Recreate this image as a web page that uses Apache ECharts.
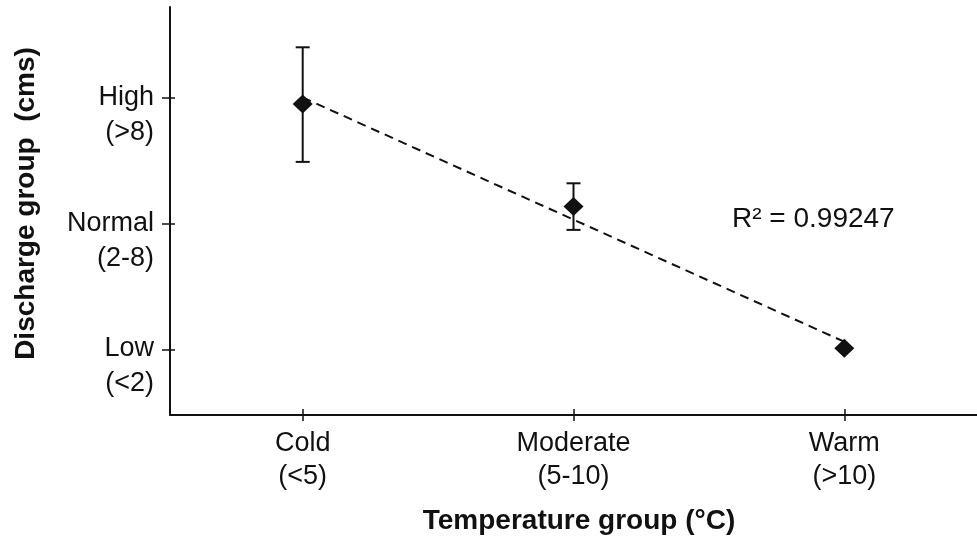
<!DOCTYPE html>
<html>
<head>
<meta charset="utf-8">
<script src="https://cdn.jsdelivr.net/npm/echarts@6/dist/echarts.min.js"></script>
<style>
html,body{margin:0;padding:0;background:#fff;}
#chart{width:977px;height:544px;}
</style>
</head>
<body>
<div id="chart"></div>
<script>
// ---- data ----
const tempLabels = ['Cold', 'Moderate', 'Warm'];
const tempRanges = ['(<5)', '(5-10)', '(>10)'];
const tempX = [1, 2, 3];
const dischargeLabels = ['Low', 'Normal', 'High'];
const dischargeRanges = ['(<2)', '(2-8)', '(>8)'];
const dischargeTicks = [1, 2, 3];
const dischargeMean = [2.95, 2.135, 1.01];
const errLow = [2.49, 1.95, null];
const errHigh = [3.40, 2.32, null];
const rSquaredText = 'R\u00b2 = 0.99247';

// least-squares trend line through the means
const n = tempX.length;
const mx = tempX.reduce((a, b) => a + b, 0) / n;
const my = dischargeMean.reduce((a, b) => a + b, 0) / n;
let sxy = 0, sxx = 0;
for (let i = 0; i < n; i++) { sxy += (tempX[i] - mx) * (dischargeMean[i] - my); sxx += (tempX[i] - mx) ** 2; }
const slope = sxy / sxx, icpt = my - slope * mx;
const trend = [tempX[0], tempX[n - 1]].map(x => [x, icpt + slope * x]);

const pointData = tempX.map((x, i) => [x, dischargeMean[i]]);
const errData = tempX.map((x, i) => [x, errLow[i], errHigh[i]]).filter(d => d[1] != null);

const FONT = "'Liberation Sans', Arial, Helvetica, sans-serif";
const INK = '#111';

const chart = echarts.init(document.getElementById('chart'));
const xBase = { type: 'value', min: 0.51, max: 3.49, splitLine: { show: false } };
const yBase = { type: 'value', min: 0.48, max: 3.72, splitLine: { show: false } };

chart.setOption({
  animation: false,
  backgroundColor: '#fff',
  grid: { left: 170, right: 0, top: 7, bottom: 129 },
  xAxis: [
    Object.assign({}, xBase, {
      position: 'bottom',
      axisLine: { lineStyle: { color: INK, width: 2 } },
      axisTick: { show: true, customValues: tempX, length: 6, inside: false, lineStyle: { color: INK, width: 1.5 } },
      axisLabel: {
        customValues: tempX, margin: 12, color: INK, fontFamily: FONT, fontSize: 27, lineHeight: 33,
        formatter: v => { const i = tempX.indexOf(v); return i < 0 ? '' : tempLabels[i] + '\n' + tempRanges[i]; }
      },
      name: 'Temperature group (\u00b0C)', nameLocation: 'middle', nameGap: 92,
      nameTextStyle: { color: INK, fontFamily: FONT, fontSize: 28, fontWeight: 'bold', padding: [0, 0, 0, 11] }
    }),
    Object.assign({}, xBase, {
      position: 'bottom', axisLine: { show: false }, axisLabel: { show: false },
      axisTick: { show: true, customValues: tempX, length: 6, inside: true, lineStyle: { color: INK, width: 1.5 } }
    })
  ],
  yAxis: [
    Object.assign({}, yBase, {
      position: 'left',
      axisLine: { lineStyle: { color: INK, width: 2 } },
      axisTick: { show: true, customValues: dischargeTicks, length: 8, inside: false, lineStyle: { color: INK, width: 1.5 } },
      axisLabel: {
        customValues: dischargeTicks, margin: 16, color: INK, align: 'right',
        formatter: v => {
          const i = dischargeTicks.indexOf(v);
          return i < 0 ? '' : '{s| }\n{a|' + dischargeLabels[i] + '}\n{a|' + dischargeRanges[i] + '}';
        },
        rich: {
          s: { fontFamily: FONT, fontSize: 10, lineHeight: 34, color: INK, align: 'right' },
          a: { fontFamily: FONT, fontSize: 27, lineHeight: 35, color: INK, align: 'right' }
        }
      },
      name: 'Discharge group  (cms)', nameLocation: 'middle', nameGap: 130,
      nameTextStyle: { color: INK, fontFamily: FONT, fontSize: 28, fontWeight: 'bold', padding: [0, 0, 0, 15] }
    }),
    Object.assign({}, yBase, {
      position: 'left', axisLine: { show: false }, axisLabel: { show: false },
      axisTick: { show: true, customValues: dischargeTicks, length: 5, inside: true, lineStyle: { color: INK, width: 1.5 } }
    })
  ],
  graphic: [{
    type: 'text', left: 732, top: 205,
    style: { text: rSquaredText, fill: INK, font: '28px ' + FONT }
  }],
  series: [
    {
      type: 'custom', xAxisIndex: 0, yAxisIndex: 0, data: errData, z: 3,
      renderItem: (params, api) => {
        const x = api.value(0);
        const pLo = api.coord([x, api.value(1)]);
        const pHi = api.coord([x, api.value(2)]);
        const w = 7, st = { stroke: INK, lineWidth: 2 };
        return {
          type: 'group', children: [
            { type: 'line', shape: { x1: pHi[0], y1: pHi[1], x2: pLo[0], y2: pLo[1] }, style: st },
            { type: 'line', shape: { x1: pHi[0] - w, y1: pHi[1], x2: pHi[0] + w, y2: pHi[1] }, style: st },
            { type: 'line', shape: { x1: pLo[0] - w, y1: pLo[1], x2: pLo[0] + w, y2: pLo[1] }, style: st }
          ]
        };
      }
    },
    {
      type: 'line', xAxisIndex: 0, yAxisIndex: 0, data: trend, symbol: 'none', z: 2,
      lineStyle: { color: INK, width: 2, type: [9, 6] }
    },
    {
      type: 'scatter', xAxisIndex: 0, yAxisIndex: 0, data: pointData, z: 4,
      symbol: 'diamond', symbolSize: [20, 19], itemStyle: { color: INK, opacity: 1 }
    }
  ]
});
</script>
</body>
</html>
